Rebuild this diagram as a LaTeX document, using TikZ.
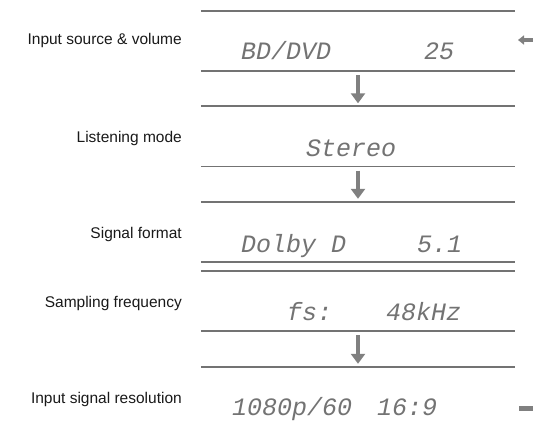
\documentclass[tikz,border=0pt]{standalone}
\usepackage{fontspec}
\setmainfont{Liberation Sans}
\newfontfamily\lcdfont{Liberation Mono}
\usetikzlibrary{arrows.meta}

\begin{document}
\begin{tikzpicture}[x=1pt, y=-1pt,
        panel/.style={minimum width=314pt, minimum height=60pt, inner sep=0pt},
        rule/.style={line width=1.6pt, black!55},
        lcd/.style={anchor=base west, inner sep=0pt, text=black!55,
            font=\lcdfont\itshape\fontsize{25}{25}\selectfont},
        lbl/.style={anchor=base east, inner sep=0pt, text=black!90,
            font=\fontsize{15.5}{16}\selectfont},
        flow/.style={line width=4.5pt, black!50, -{Triangle[width=14pt, length=10pt]}}]
        \useasboundingbox (0,0) rectangle (533,425);

        % display panels
        \node[panel] (src) at (358,41) {};
        \node[panel] (mode) at (358,136.5) {};
        \node[panel] (fmt) at (358,232) {};
        \node[panel] (freq) at (358,301) {};
        \node[panel] (res) at (358,397) {};

        \foreach \p in {src,mode,fmt,freq}
            \draw[rule] (\p.north west) -- (\p.north east) (\p.south west) -- (\p.south east);
        \draw[rule] (res.north west) -- (res.north east);

        % steps
        \draw[flow] ([yshift=-4pt]src.south) -- ([yshift=3pt]mode.north);
        \draw[flow] ([yshift=-4pt]mode.south) -- ([yshift=3pt]fmt.north);
        \draw[flow] ([yshift=-4pt]freq.south) -- ([yshift=3pt]res.north);

        % display texts
        \node[lcd] (srcname) at (241,60) {BD/DVD};
        \node[lcd] (srcvol) at (424,60) {25};
        \node[lcd] (modename) at (306,157) {Stereo};
        \node[lcd] (fmtname) at (241,252) {Dolby D};
        \node[lcd] (fmtch) at (417,252) {5.1};
        \node[lcd] (freqname) at (287,320) {fs:};
        \node[lcd] (freqval) at (386,320) {48kHz};
        \node[lcd] (resval) at (232,415) {1080p/60};
        \node[lcd] (resasp) at (377,415) {16:9};

        % captions
        \node[lbl] (srclbl) at (182,45) {Input source \& volume};
        \node[lbl] (modelbl) at (182,143) {Listening mode};
        \node[lbl] (fmtlbl) at (182,238) {Signal format};
        \node[lbl] (freqlbl) at (182,307) {Sampling frequency};
        \node[lbl] (reslbl) at (182,403) {Input signal resolution};

        % side marks
        \coordinate (mark) at (533,40);
        \draw[line width=4pt, black!50, -{Triangle[width=9pt, length=6pt]}] (mark) -- +(-15,0);
        \fill[black!50] (519,406) rectangle (533,411);
    \end{tikzpicture}
\end{document}
